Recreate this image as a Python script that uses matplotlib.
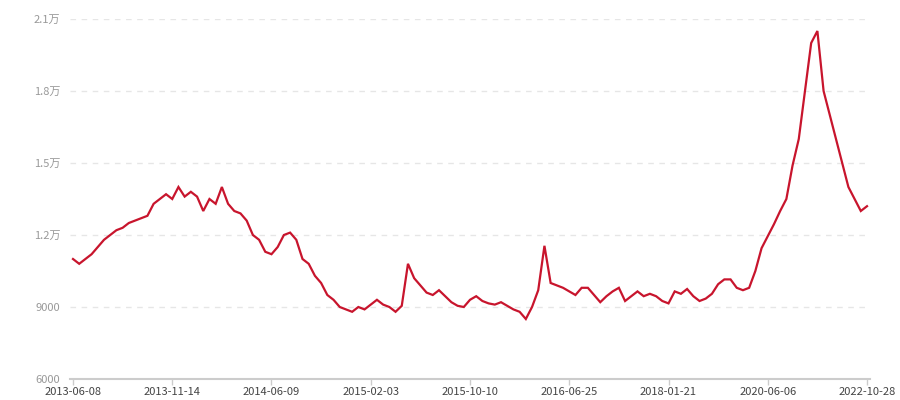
import matplotlib.pyplot as plt
from matplotlib.ticker import FuncFormatter

plt.rcParams['font.family'] = ['Noto Sans CJK SC', 'DejaVu Sans']

# tick labels shown under the axis (every 16th point)
date_labels = ['2013-06-08', '2013-11-14', '2014-06-09', '2015-02-03', '2015-10-10',
               '2016-06-25', '2018-01-21', '2020-06-06', '2022-10-28']
label_step = 16

values = [
    11000, 10800, 11000, 11200, 11500, 11800, 12000, 12200, 12300, 12500,
    12600, 12700, 12800, 13300, 13500, 13700, 13500, 14000, 13600, 13800,
    13600, 13000, 13500, 13300, 14000, 13300, 13000, 12900, 12600, 12000,
    11800, 11300, 11200, 11500, 12000, 12100, 11800, 11000, 10800, 10300,
    10000, 9500, 9300, 9000, 8900, 8800, 9000, 8900, 9100, 9300,
    9100, 9000, 8800, 9050, 10800, 10200, 9900, 9600, 9500, 9700,
    9450, 9200, 9050, 9000, 9300, 9450, 9250, 9150, 9100, 9200,
    9050, 8900, 8800, 8500, 9000, 9700, 11550, 10000, 9900, 9800,
    9650, 9500, 9800, 9800, 9500, 9200, 9450, 9650, 9800, 9250,
    9450, 9650, 9450, 9550, 9450, 9250, 9150, 9650, 9550, 9750,
    9450, 9250, 9350, 9550, 9950, 10150, 10150, 9800, 9700, 9800,
    10500, 11450, 11950, 12450, 13000, 13500, 14900, 16000, 18000, 20000,
    20500, 18000, 17000, 16000, 15000, 14000, 13500, 13000, 13200,
]

y_ticks = [6000, 9000, 12000, 15000, 18000, 21000]


def wan(v, pos):
    if v >= 10000:
        return f'{v / 10000:g}万'
    return f'{int(v)}'


fig = plt.figure(figsize=(9, 4), dpi=100)
ax = fig.add_axes([70.2 / 900, 1 - 379 / 400, 799.6 / 900, 360 / 400])

x = list(range(len(values)))
ax.plot(x, values, color='#c8152d', lw=1.6, solid_joinstyle='miter')

ax.set_xlim(-0.45, len(values) - 1 + 0.45)
ax.set_ylim(y_ticks[0], y_ticks[-1])

ax.set_xticks(x[::label_step])
ax.set_xticklabels(date_labels)
ax.set_yticks(y_ticks)
ax.yaxis.set_major_formatter(FuncFormatter(wan))

for v in y_ticks[1:]:
    ax.axhline(v, color='#e6e6e6', lw=1, ls=(0, (4, 4)), zorder=0)

for side in ['top', 'right', 'left']:
    ax.spines[side].set_visible(False)
ax.spines['bottom'].set_color('#cccccc')
ax.spines['bottom'].set_linewidth(1.5)

ax.tick_params(axis='x', length=4, width=1, color='#cccccc', labelsize=8,
               labelcolor='#444444', pad=2)
ax.tick_params(axis='y', length=0, labelsize=8, labelcolor='#999999', pad=7)

fig.savefig('out.png', dpi=100)
